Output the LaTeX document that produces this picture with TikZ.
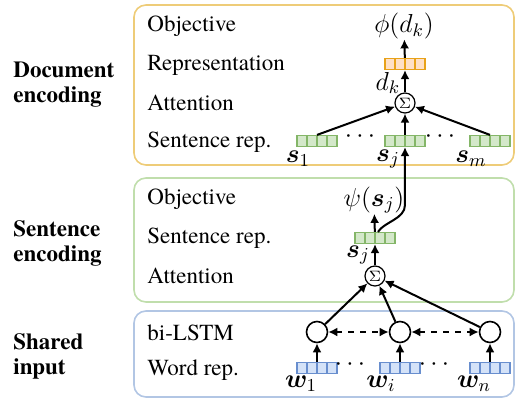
\RequirePackage{fix-cm}
\documentclass[tikz,border=0pt]{standalone}
\usepackage[no-math]{fontspec}
\setmainfont{texgyretermes}[Extension=.otf, UprightFont=*-regular, BoldFont=*-bold,
  ItalicFont=*-italic, BoldItalicFont=*-bolditalic]
\usepackage{bm}
\usetikzlibrary{arrows.meta, calc}

\definecolor{docline}{RGB}{238,204,120}
\definecolor{sentline}{RGB}{192,222,172}
\definecolor{wordline}{RGB}{178,198,228}
\definecolor{docvecline}{RGB}{232,162,25}
\definecolor{docvecfill}{RGB}{255,224,198}
\definecolor{sentvecline}{RGB}{132,182,104}
\definecolor{sentvecfill}{RGB}{212,232,202}
\definecolor{wordvecline}{RGB}{104,142,206}
\definecolor{wordvecfill}{RGB}{212,226,248}

\begin{document}
\begin{tikzpicture}[x=0.5pt, y=-0.5pt, font=\fontsize{11.5}{12.5}\selectfont,
    panel/.style={draw=#1, line width=0.8pt, rounded corners=6pt},
    cellvec/.style 2 args={draw=#1, fill=#2, line width=0.6pt, minimum width=20pt,
      minimum height=5.5pt, inner sep=0pt,
      path picture={\foreach \k in {1,2,3}{
        \draw[#1, line width=0.6pt]
          ($(path picture bounding box.north west)!\k/4!(path picture bounding box.north east)$) --
          ($(path picture bounding box.south west)!\k/4!(path picture bounding box.south east)$);}}},
    sumnode/.style={circle, draw, line width=0.6pt, minimum size=10pt, inner sep=0pt,
      font=\fontsize{7.5}{8}\selectfont},
    lstm/.style={circle, draw, line width=0.8pt, minimum size=10.5pt, inner sep=0pt},
    conn/.style={-{Latex[length=4.5pt,width=4.5pt]}, line width=1pt},
    biconn/.style={{Latex[length=4.5pt,width=4.5pt]}-{Latex[length=4.5pt,width=4.5pt]},
      line width=0.9pt, dashed},
    mathlabel/.style={inner sep=0pt, font=\fontsize{13}{14}\selectfont},
    rowlabel/.style={anchor=west, inner sep=0pt},
    grouplabel/.style={anchor=west, align=left, inner sep=0pt,
      font=\fontsize{11.5}{12.5}\selectfont\bfseries},
  ]
  \useasboundingbox (0,0) rectangle (516,398);

  % panels
  \draw[panel=docline] (134,5) rectangle (514,165);
  \draw[panel=sentline] (134,178) rectangle (514,302);
  \draw[panel=wordline] (134,311) rectangle (514,397);

  % group labels
  \node[grouplabel] (gdoc) at (13,85) {Document\\encoding};
  \node[grouplabel] (gsent) at (13,243) {Sentence\\encoding};
  \node[grouplabel] (gshared) at (13,356) {Shared\\input};

  % row labels
  \node[rowlabel] (rdobj) at (147,26) {Objective};
  \node[rowlabel] (rdrep) at (147,65) {Representation};
  \node[rowlabel] (rdatt) at (147,103) {Attention};
  \node[rowlabel] (rdsent) at (147,142) {Sentence rep.};
  \node[rowlabel] (rsobj) at (147,199) {Objective};
  \node[rowlabel] (rsrep) at (147,238) {Sentence rep.};
  \node[rowlabel] (rsatt) at (147,276) {Attention};
  \node[rowlabel] (rwlstm) at (147,333) {bi-LSTM};
  \node[rowlabel] (rwrep) at (147,370) {Word rep.};

  % document encoding
  \node[mathlabel] (phiD) at (404,26) {$\phi(d_k)$};
  \node[cellvec={docvecline}{docvecfill}] (rep) at (405,64) {};
  \node[sumnode] (sigD) at (405,103) {$\Sigma$};
  \node[mathlabel] (dk) at (388,83) {$d_k$};
  \node[cellvec={sentvecline}{sentvecfill}] (s1) at (317,141) {};
  \node[cellvec={sentvecline}{sentvecfill}] (sjD) at (405,141) {};
  \node[cellvec={sentvecline}{sentvecfill}] (sm) at (490,141) {};
  \node[mathlabel] (dotsD1) at (360,137) {$\cdots$};
  \node[mathlabel] (dotsD2) at (440,137) {$\cdots$};
  \node[mathlabel] (s1lab) at (298,159) {$\bm{s}_1$};
  \node[mathlabel] (sjDlab) at (388,159) {$\bm{s}_j$};
  \node[mathlabel] (smlab) at (471,159) {$\bm{s}_m$};

  \draw[conn] (s1.north) -- (sigD);
  \draw[conn] (sjD.north) -- (sigD);
  \draw[conn] (sm.north) -- (sigD);
  \draw[conn] (sigD) -- (rep);
  \draw[conn] (rep) -- (phiD);

  % sentence encoding
  \node[mathlabel] (psi) at (374,200) {$\psi(\bm{s}_j)$};
  \node[cellvec={sentvecline}{sentvecfill}] (sjS) at (375,238) {};
  \node[sumnode] (sigS) at (375,276) {$\Sigma$};
  \node[mathlabel] (sjSlab) at (358,255) {$\bm{s}_j$};
  \coordinate (bend) at (405,205);

  \draw[conn] (sigS) -- (sjS);
  \draw[conn] (sjS) -- (psi);
  \draw[conn] ([xshift=1.5pt]sjS.north) .. controls +(6,-10) and +(0,14) .. (bend) -- (sjD);

  % shared input
  \node[lstm] (h1) at (317,332) {};
  \node[lstm] (h2) at (400,332) {};
  \node[lstm] (h3) at (490,332) {};
  \node[cellvec={wordvecline}{wordvecfill}] (w1) at (317,368) {};
  \node[cellvec={wordvecline}{wordvecfill}] (wi) at (400,368) {};
  \node[cellvec={wordvecline}{wordvecfill}] (wn) at (490,368) {};
  \node[mathlabel] (dotsW1) at (350,365) {$\cdots$};
  \node[mathlabel] (dotsW2) at (434,365) {$\cdots$};
  \node[mathlabel] (w1lab) at (301,384) {$\bm{w}_1$};
  \node[mathlabel] (wilab) at (381,384) {$\bm{w}_i$};
  \node[mathlabel] (wnlab) at (474,384) {$\bm{w}_n$};

  \draw[conn] (w1) -- (h1);
  \draw[conn] (wi) -- (h2);
  \draw[conn] (wn) -- (h3);
  \draw[biconn] (h1) -- (h2);
  \draw[biconn] (h2) -- (h3);
  \draw[conn] (h1) -- (sigS);
  \draw[conn] (h2) -- (sigS);
  \draw[conn] (h3) -- (sigS);
\end{tikzpicture}
\end{document}
